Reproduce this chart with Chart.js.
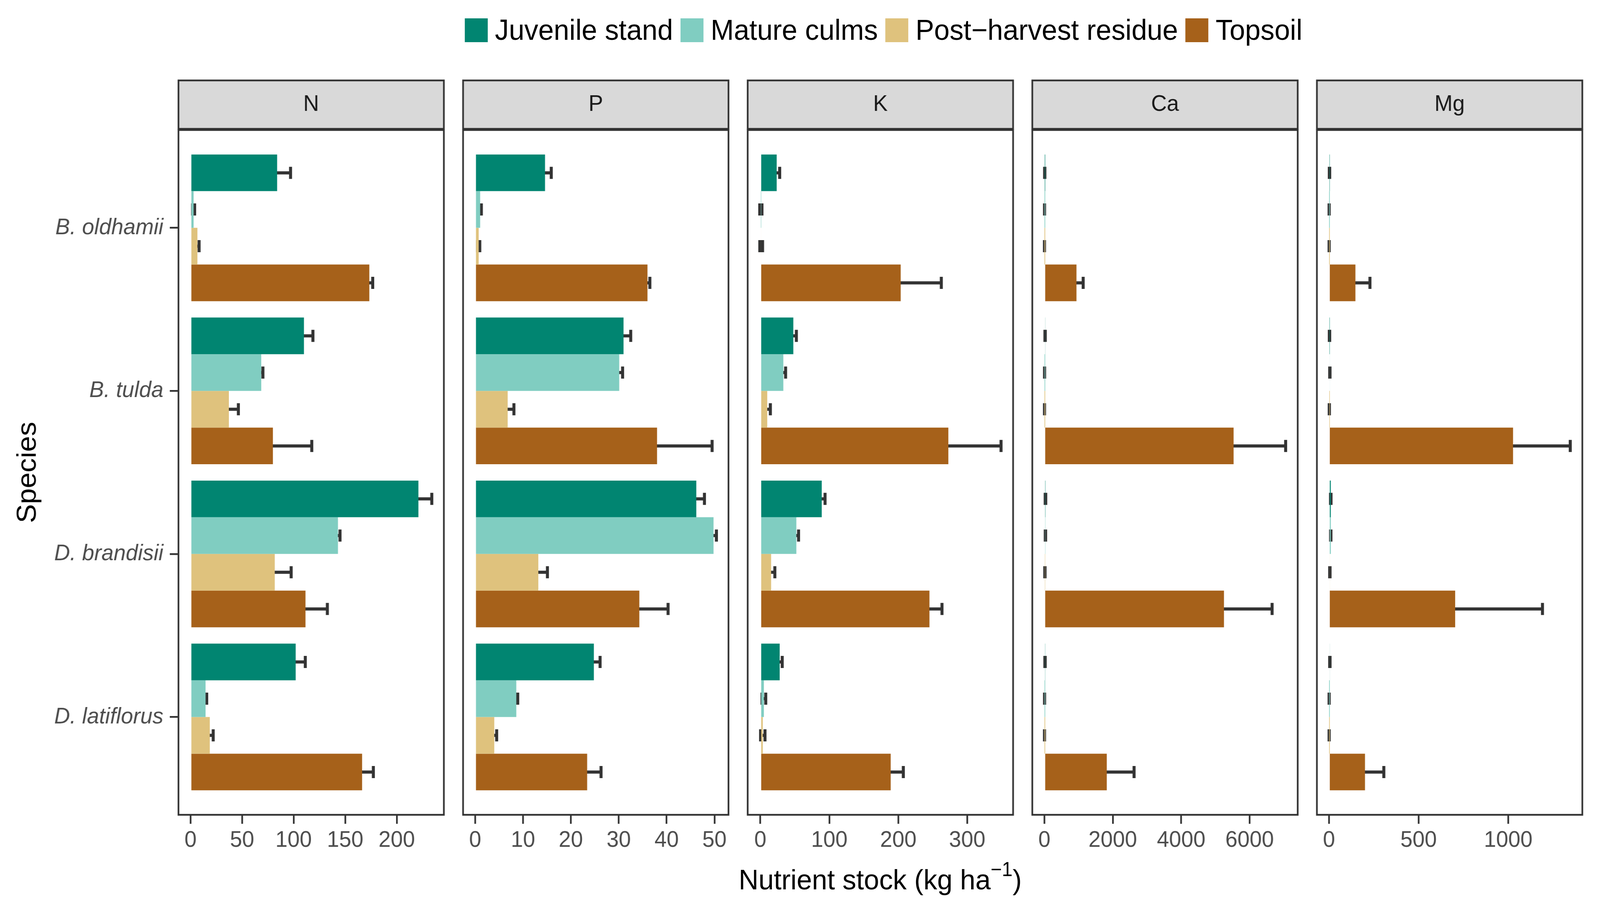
<!DOCTYPE html>
<html>
<head>
<meta charset="utf-8">
<script src="https://cdn.jsdelivr.net/npm/chart.js@4.4.1/dist/chart.umd.min.js"></script>
<style>
  html, body { margin: 0; padding: 0; background: #fff; overflow: hidden; }
  #page { width: 4250px; height: 2359px; position: relative; transform-origin: 0 0; font-family: "Liberation Sans", Arial, sans-serif; }
  canvas { position: absolute; top: 0; }
  #legend { position: absolute; top: 47px; left: 2347px; transform: translateX(-50%); display: flex; align-items: center; height: 60px; white-space: nowrap; }
  .key { width: 61px; height: 61px; margin-right: 19px; }
  .lab { font-size: 74px; line-height: 60px; color: #000; margin-right: 20px; }
  #xtitle { position: absolute; top: 2213px; left: 2338px; transform: translateX(-50%); font-size: 73px; line-height: 80px; color: #000; white-space: nowrap; }
  #xtitle sup { font-size: 51px; line-height: 0; vertical-align: 34px; }
</style>
</head>
<body>
<div id="page">
<div id="legend"></div>
<div id="xtitle">Nutrient stock (kg ha<sup>&minus;1</sup>)</div>
</div>
<script>
// categories
var species = ["B. oldhamii", "B. tulda", "D. brandisii", "D. latiflorus"];
var pools = ["Juvenile stand", "Mature culms", "Post\u2212harvest residue", "Topsoil"];
var poolColors = ["#018571", "#80CDC1", "#DFC27D", "#A6611A"];
var nutrients = ["N", "P", "K", "Ca", "Mg"];

// mean stock per pool (rows) and species (columns), kg/ha
var nMean = [[84, 110, 221, 102], [3, 68.6, 143, 14.6], [6.7, 37.2, 81.7, 18.7], [173.4, 79.9, 111.5, 166.4]];
var nSe = [[13, 8.7, 13, 9.3], [1, 1.6, 2, 1.1], [1.6, 9.2, 15.9, 3.3], [3.3, 37.7, 21.2, 10.9]];

var pMean = [[14.6, 31.0, 46.2, 24.8], [1.05, 30.1, 49.8, 8.6], [0.74, 6.8, 13.2, 4.0], [36.0, 38.0, 34.3, 23.4]];
var pSe = [[1.3, 1.5, 1.7, 1.3], [0.25, 0.7, 0.6, 0.3], [0.23, 1.3, 1.9, 0.5], [0.5, 11.5, 6.0, 2.9]];

var kMean = [[23.7, 47.8, 89, 28], [0.7, 33.3, 52.2, 5.1], [1.2, 10, 15.6, 3.5], [203.5, 272.6, 245.2, 189]];
var kSe = [[4.3, 4.4, 4.8, 3.7], [1.6, 3.3, 3.2, 2.7], [2.0, 4.5, 5.4, 3.2], [58.9, 76.4, 18.2, 18.3]];

var caMean = [[11, 22, 33, 20], [5, 6, 32, 6], [3, 4, 16, 4], [939, 5533, 5251, 1825]];
var caSe = [[4, 5, 8, 5], [1, 1.5, 5, 1.5], [1, 1, 4, 1], [196, 1521, 1407, 798]];

var mgMean = [[3, 3, 10, 5], [1, 5, 10, 1], [1, 2, 5, 1], [147.6, 1027, 704, 201]];
var mgSe = [[1, 1, 1.5, 1], [0.3, 0.8, 1, 0.3], [0.3, 0.5, 1, 0.3], [81, 319, 487, 105]];

// tick labels of each panel
var nTicks = [0, 50, 100, 150, 200];
var pTicks = [0, 10, 20, 30, 40, 50];
var kTicks = [0, 100, 200, 300];
var caTicks = [0, 2000, 4000, 6000];
var mgTicks = [0, 500, 1000];

var means = [nMean, pMean, kMean, caMean, mgMean];
var ses = [nSe, pSe, kSe, caSe, mgSe];
var ticksList = [nTicks, pTicks, kTicks, caTicks, mgTicks];

// page layout (pixels)
var panelLeft = [474, 1230, 1986, 2742, 3498];
var panelWidth = 705;
var margin = 60;

var page = document.getElementById("page");
// the viewport can be narrower than 4250, stretch the page onto it
var sx = window.innerWidth / 4250, sy = window.innerHeight / 2359;
page.style.transform = "scale(" + sx + "," + sy + ")";

Chart.defaults.font.family = '"Liberation Sans", Arial, sans-serif';

// legend
var legend = document.getElementById("legend");
pools.forEach(function(p, k) {
  var key = document.createElement("div");
  key.className = "key";
  key.style.background = poolColors[k];
  var lab = document.createElement("span");
  lab.className = "lab";
  lab.textContent = p;
  if (k === pools.length - 1) lab.style.marginRight = "0";
  legend.appendChild(key);
  legend.appendChild(lab);
});

// ggplot-like range: data incl. error bars, 5% expansion
function limits(mean, se) {
  var lo = 0, hi = 0;
  mean.forEach(function(row, k) {
    row.forEach(function(v, j) {
      lo = Math.min(lo, v - se[k][j]);
      hi = Math.max(hi, v + se[k][j]);
    });
  });
  var pad = (hi - lo) * 0.05;
  return [lo - pad, hi + pad];
}

//error bars, strip and panel border
var panelPlugin = {
  id: "panel",
  beforeDatasetsDraw: function(chart) {
    var ctx = chart.ctx, xs = chart.scales.x;
    ctx.save();
    ctx.strokeStyle = "#333333";
    ctx.lineWidth = 8;
    chart.data.datasets.forEach(function(ds, i) {
      var meta = chart.getDatasetMeta(i);
      meta.data.forEach(function(bar, j) {
        var m = ds.data[j].x, e = ds.se[j];
        var lo = xs.getPixelForValue(m - e), hi = xs.getPixelForValue(m + e);
        var y = bar.y, h = 15.5;
        ctx.beginPath();
        ctx.moveTo(lo, y); ctx.lineTo(hi, y);
        ctx.moveTo(lo, y - h); ctx.lineTo(lo, y + h);
        ctx.moveTo(hi, y - h); ctx.lineTo(hi, y + h);
        ctx.stroke();
      });
    });
    ctx.restore();
  },
  afterDraw: function(chart, args, opts) {
    var ctx = chart.ctx, a = chart.chartArea;
    var w = a.right - a.left;
    ctx.save();
    ctx.fillStyle = "#D9D9D9";
    ctx.fillRect(a.left, 206, w, 124);
    ctx.strokeStyle = "#333333";
    ctx.lineWidth = 4.5;
    ctx.strokeRect(a.left, 206, w, 124);
    ctx.fillStyle = "#1A1A1A";
    ctx.font = '58px "Liberation Sans", Arial, sans-serif';
    ctx.textAlign = "center";
    ctx.textBaseline = "middle";
    ctx.fillText(opts.label, a.left + w / 2, 268);
    ctx.strokeRect(a.left, a.top, w, a.bottom - a.top);
    ctx.restore();
  }
};

nutrients.forEach(function(nut, i) {
  var first = i === 0;
  var canvas = document.createElement("canvas");
  var left = first ? 0 : panelLeft[i] - margin;
  canvas.width = panelLeft[i] + panelWidth + margin - left;
  canvas.height = 2359;
  canvas.style.left = left + "px";
  page.appendChild(canvas);

  var lim = limits(means[i], ses[i]);
  var tickVals = ticksList[i];

  new Chart(canvas, {
    type: "bar",
    data: {
      datasets: pools.map(function(p, k) {
        return {
          label: p,
          data: means[i][k].map(function(v, j) { return {x: v, y: j + 1}; }),
          se: ses[i][k],
          backgroundColor: poolColors[k],
          borderWidth: 0,
          categoryPercentage: 0.9,
          barPercentage: 1
        };
      })
    },
    options: {
      indexAxis: "y",
      responsive: false,
      animation: false,
      devicePixelRatio: 1,
      layout: {
        padding: {top: 333, bottom: 0, left: first ? 0 : margin, right: margin}
      },
      plugins: {
        legend: {display: false},
        tooltip: {enabled: false},
        panel: {label: nut}
      },
      scales: {
        x: {
          type: "linear",
          position: "bottom",
          min: lim[0],
          max: lim[1],
          afterBuildTicks: function(s) { s.ticks = tickVals.map(function(v) { return {value: v}; }); },
          ticks: {
            callback: function(v) { return String(v); },
            font: {size: 58},
            color: "#4D4D4D",
            padding: 8,
            maxRotation: 0,
            autoSkip: false
          },
          grid: {drawOnChartArea: false, drawTicks: true, tickLength: 23, color: "#333333", lineWidth: 4.5},
          border: {display: false},
          afterFit: function(s) { s.height = 272; }
        },
        y: {
          type: "linear",
          reverse: true,
          offset: false,
          min: 0.4,
          max: 4.6,
          afterBuildTicks: function(s) { s.ticks = [1, 2, 3, 4].map(function(v) { return {value: v}; }); },
          ticks: {
            display: first,
            callback: function(v) { return species[v - 1]; },
            font: {size: 58, style: "italic"},
            color: "#4D4D4D",
            padding: 17,
            autoSkip: false
          },
          grid: {display: first, offset: false, drawOnChartArea: false, drawTicks: true, tickLength: 23, color: "#333333", lineWidth: 4.5},
          border: {display: false},
          title: {display: first, text: "Species", font: {size: 73}, color: "#000", padding: {top: 31, bottom: 0}},
          afterFit: function(s) { s.width = first ? panelLeft[0] : 0; }
        }
      }
    },
    plugins: [panelPlugin]
  });
});
</script>
</body>
</html>
